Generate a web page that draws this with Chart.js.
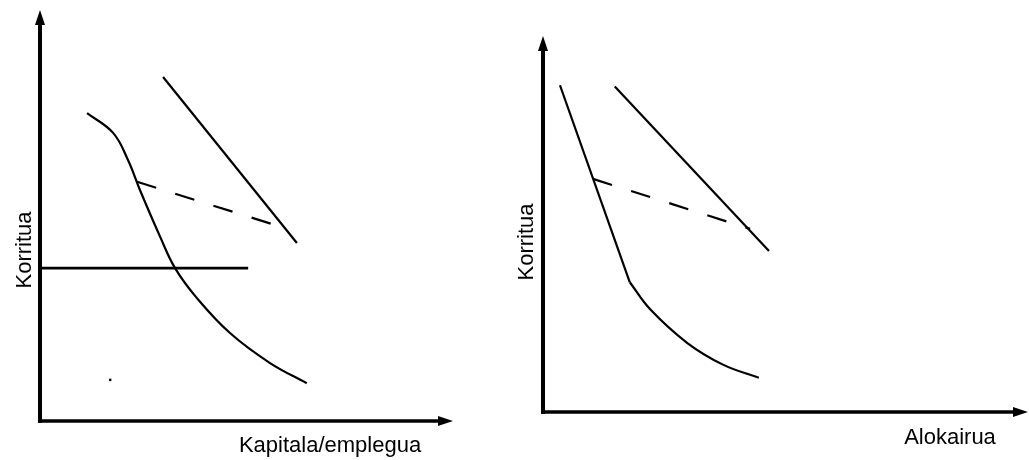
<!DOCTYPE html>
<html><head><meta charset="utf-8">
<script src="https://cdn.jsdelivr.net/npm/chart.js@4.4.1/dist/chart.umd.min.js"></script>
<style>
html,body{margin:0;padding:0;background:#fff;}
#wrap{position:relative;width:1029px;height:460px;overflow:hidden;background:#fff;}
canvas{position:absolute;top:0;}
#c1{left:0;}
#c2{left:500px;}
</style></head><body>
<div id="wrap"><canvas id="c1" width="500" height="460"></canvas><canvas id="c2" width="529" height="460"></canvas></div>
<script>
// ---------- Left panel (axis units 0..100) ----------
const leftXTitle = 'Kapitala/emplegua';
const leftYTitle = 'Korritua';
const leftUpperLine = [{x:29.8,y:83.7},{x:62.2,y:43.3}];
const leftCurve = [
  {x:11.4,y:74.9},{x:17.7,y:70.1},{x:21.3,y:63.5},{x:24.2,y:56.2},{x:29.1,y:44.8},
  {x:32.7,y:37.2},{x:38.0,y:29.9},{x:46.0,y:21.4},{x:55.7,y:14.1},{x:64.6,y:9.2}
];
const leftDashed = [{x:23.5,y:58.2},{x:56.9,y:47.7}];
const leftHorizontal = [{x:0,y:37.2},{x:50.4,y:37.2}];
const leftSpeck = [{x:17.0,y:10.0}];

// ---------- Right panel (axis units 0..100) ----------
const rightXTitle = 'Alokairua';
const rightYTitle = 'Korritua';
const rightUpperLine = [{x:14.8,y:86.6},{x:46.6,y:42.8}];
const rightSteep = [{x:3.5,y:86.9},{x:17.9,y:34.5}];
const rightCurve = [
  {x:17.9,y:34.5},{x:22.1,y:27.3},{x:29.7,y:18.4},{x:37.1,y:12.6},{x:44.5,y:9.1}
];
const rightDashed = [{x:10.3,y:62.0},{x:42.7,y:48.7}];

const arrowAxes = {
  id:'arrowAxes',
  afterDatasetsDraw(chart, args, o){
    const {ctx, scales:{x,y}} = chart;
    const x0 = x.getPixelForValue(0), y0 = y.getPixelForValue(0);
    const xe = x.getPixelForValue(x.max), ye = y.getPixelForValue(y.max);
    ctx.save();
    ctx.strokeStyle='#000'; ctx.fillStyle='#000'; ctx.lineCap='butt';
    ctx.lineWidth=o.yWidth;
    ctx.beginPath(); ctx.moveTo(x0, y0+o.xWidth/2); ctx.lineTo(x0, ye+o.head-1); ctx.stroke();
    ctx.lineWidth=o.xWidth;
    ctx.beginPath(); ctx.moveTo(x0-o.yWidth/2, y0); ctx.lineTo(xe-o.head+1, y0); ctx.stroke();
    ctx.beginPath(); ctx.moveTo(x0, ye); ctx.lineTo(x0-o.hw, ye+o.head); ctx.lineTo(x0+o.hw, ye+o.head); ctx.closePath(); ctx.fill();
    ctx.beginPath(); ctx.moveTo(xe, y0); ctx.lineTo(xe-o.head, y0-o.hw); ctx.lineTo(xe-o.head, y0+o.hw); ctx.closePath(); ctx.fill();
    ctx.font = o.font; ctx.textBaseline='alphabetic'; ctx.textAlign='center';
    ctx.fillText(o.xTitle, o.xTitleX, o.xTitleY);
    ctx.translate(o.yTitleX, o.yTitleY); ctx.rotate(-Math.PI/2);
    ctx.fillText(o.yTitle, 0, 0);
    ctx.restore();
  }
};

function line(data, extra){
  return Object.assign({data, showLine:true, borderColor:'#000', backgroundColor:'#000',
    borderWidth:2.2, pointRadius:0, pointHoverRadius:0, fill:false}, extra||{});
}

function makeChart(id, datasets, pad, axOpts){
  return new Chart(document.getElementById(id), {
    type:'scatter',
    data:{datasets},
    options:{
      responsive:false, animation:false, events:[],
      layout:{padding:pad},
      scales:{
        x:{type:'linear', min:0, max:100, display:false},
        y:{type:'linear', min:0, max:100, display:false}
      },
      plugins:{legend:{display:false}, tooltip:{enabled:false}, arrowAxes:axOpts}
    },
    plugins:[arrowAxes]
  });
}

const FONT = '22px "Liberation Sans", Arial, sans-serif';

makeChart('c1', [
  line(leftUpperLine),
  line(leftCurve, {tension:0.4}),
  line(leftDashed, {borderDash:[20,20]}),
  line(leftHorizontal, {borderWidth:2.6}),
  {data:leftSpeck, showLine:false, pointRadius:1.3, backgroundColor:'#000', borderWidth:0}
], {left:40, right:47, top:10, bottom:39},
{ xTitle:leftXTitle, yTitle:leftYTitle, font:FONT, xTitleX:330, xTitleY:452, yTitleX:31, yTitleY:250,
  xWidth:3.5, yWidth:4, head:15, hw:5 });

makeChart('c2', [
  line(rightUpperLine),
  line(rightSteep),
  line(rightCurve, {tension:0.4}),
  line(rightDashed, {borderDash:[20,20]})
], {left:43, right:1, top:36, bottom:48},
{ xTitle:rightXTitle, yTitle:rightYTitle, font:FONT, xTitleX:450, xTitleY:444, yTitleX:33, yTitleY:242,
  xWidth:3.5, yWidth:4, head:15, hw:5 });
</script>
</body></html>
